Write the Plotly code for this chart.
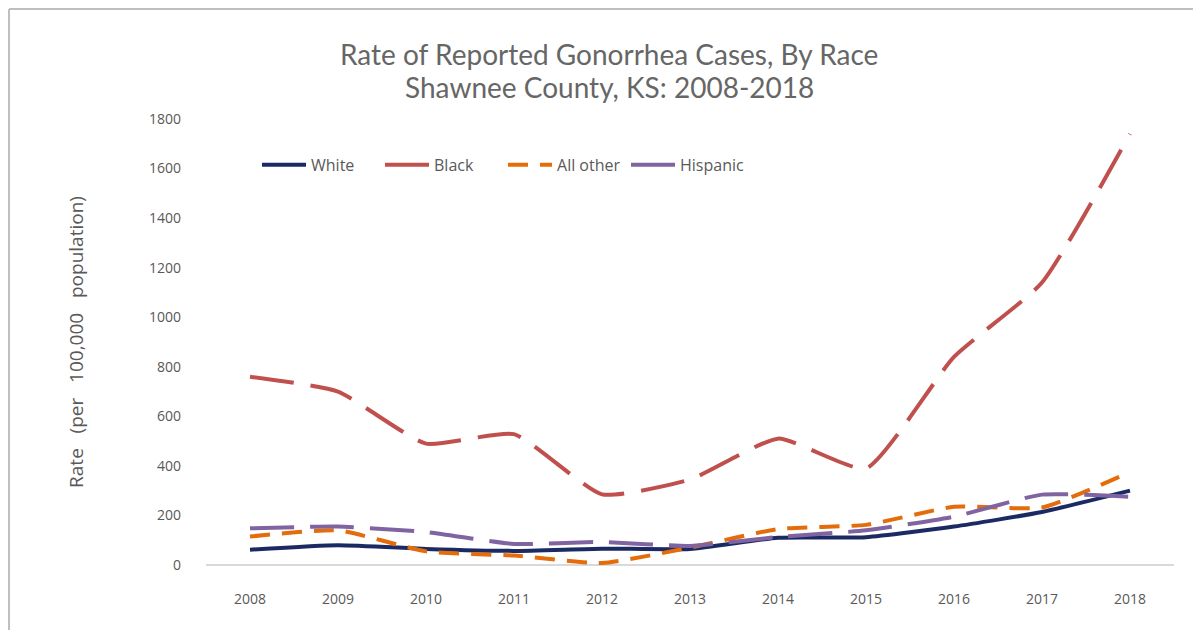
import plotly.graph_objects as go

# Rate of reported gonorrhea cases per 100,000, Shawnee County KS
years = [2008, 2009, 2010, 2011, 2012, 2013, 2014, 2015, 2016, 2017, 2018]
white = [62, 80, 65, 57, 66, 65, 110, 112, 155, 214, 300]
black = [760, 700, 490, 528, 285, 345, 510, 390, 840, 1140, 1740]
all_other = [115, 140, 55, 38, 8, 70, 145, 162, 235, 232, 375]
hispanic = [148, 155, 133, 85, 93, 77, 113, 140, 195, 284, 275]

series = [
    ("White", white, "#1b2a63", "solid"),
    ("Black", black, "#c0504d", "44px,17px"),
    ("All other", all_other, "#e46c0a", "20px,12px"),
    ("Hispanic", hispanic, "#8064a2", "44px,16px"),
]

grey = "#595959"
fig = go.Figure()
for name, vals, col, dash in series:
    fig.add_trace(go.Scatter(x=years, y=vals, mode="lines", name=name,
                             line=dict(color=col, width=4, dash=dash, shape="spline", smoothing=0.5)))

# page body has an 8px margin, so the figure is a bit smaller than the window
fig.update_layout(
    width=1193, height=622,
    margin=dict(l=198, r=27, t=111, b=65),
    plot_bgcolor="white", paper_bgcolor="white",
    legend=dict(orientation="h", x=0.0527, y=0.897, xanchor="left", yanchor="middle",
                itemwidth=44, entrywidth=64, font=dict(family="Open Sans", size=16, color=grey),
                bgcolor="rgba(0,0,0,0)"),
    font=dict(family="Open Sans", color=grey),
)

# two title lines as separate annotations to control spacing
for txt, yy in [("Rate of Reported Gonorrhea Cases, By Race", 1.1458),
                ("Shawnee County, KS: 2008-2018", 1.0717)]:
    fig.add_annotation(text=txt, xref="paper", yref="paper", x=0.4168, y=yy,
                       xanchor="center", yanchor="middle", showarrow=False,
                       font=dict(family="Lato", size=28, color="#666666"))

sp = "\u00a0\u00a0\u00a0"
fig.update_xaxes(range=[2007.5, 2018.5], tickvals=years, showgrid=False, zeroline=False,
                 showline=False, ticks="", ticklabelstandoff=24,
                 tickfont=dict(size=14, color=grey, family="Open Sans"))
fig.update_yaxes(range=[0, 1800], dtick=200, showgrid=False, zeroline=True, zerolinecolor="#d9d9d9",
                 zerolinewidth=2, ticks="", ticklabelstandoff=24,
                 tickfont=dict(size=14, color=grey, family="Open Sans"),
                 title=dict(text="Rate" + sp + "(per" + sp + "100,000" + sp + "population)", standoff=60,
                            font=dict(size=19, color=grey, family="Open Sans")))

# chart frame (only top and left edges visible in the crop)
fig.add_shape(type="line", xref="paper", yref="paper", x0=-0.2035, x1=1.1, y0=1.2466, y1=1.2466,
              line=dict(color="#bfbfbf", width=2))
fig.add_shape(type="line", xref="paper", yref="paper", x0=-0.2035, x1=-0.2035, y0=1.2466, y1=-0.2,
              line=dict(color="#bfbfbf", width=2))

fig.write_html("out.html")
